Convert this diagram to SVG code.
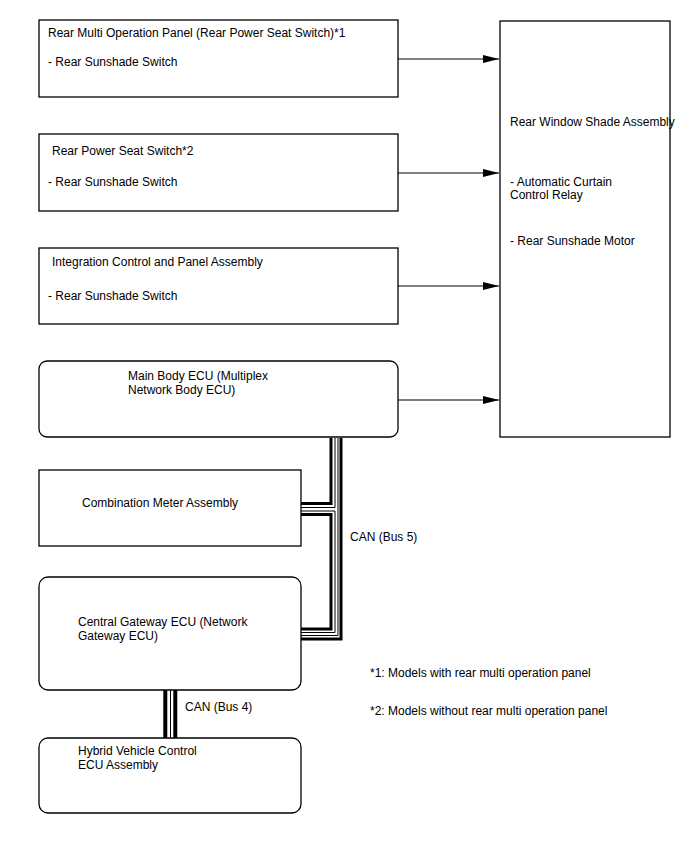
<svg xmlns="http://www.w3.org/2000/svg" width="688" height="852" viewBox="0 0 688 852">
<style>
  .box { fill: #ffffff; stroke: #000000; stroke-width: 1.3; }
  .t { font-family: "Liberation Sans", Arial, sans-serif; font-size: 12px; fill: #000000; }
  .arrow { stroke: #000000; stroke-width: 1.2; fill: none; marker-end: url(#ah); }
  .thick { stroke: #000000; stroke-width: 3; fill: none; }
  .thin { stroke: #000000; stroke-width: 1; fill: none; }
</style>
<defs>
  <marker id="ah" viewBox="0 0 16 8" refX="16" refY="4" markerWidth="16" markerHeight="8" markerUnits="userSpaceOnUse" orient="auto">
    <path d="M0,0 L16,4 L0,8 Z" fill="#000000"/>
  </marker>
</defs>
<rect width="688" height="852" fill="#ffffff"/>

<g id="rear-multi-operation-panel">
  <rect class="box" x="39" y="20" width="359" height="77"/>
  <text class="t" x="48" y="37">Rear Multi Operation Panel (Rear Power Seat Switch)*1</text>
  <text class="t" x="48" y="66">- Rear Sunshade Switch</text>
</g>
<g id="rear-power-seat-switch">
  <rect class="box" x="39" y="134" width="359" height="77"/>
  <text class="t" x="52" y="155">Rear Power Seat Switch*2</text>
  <text class="t" x="48" y="186">- Rear Sunshade Switch</text>
</g>
<g id="integration-control-panel">
  <rect class="box" x="39" y="248" width="359" height="76"/>
  <text class="t" x="52" y="266">Integration Control and Panel Assembly</text>
  <text class="t" x="48" y="300">- Rear Sunshade Switch</text>
</g>
<g id="main-body-ecu">
  <rect class="box" x="39" y="361" width="359" height="76" rx="8"/>
  <text class="t" x="128" y="380">Main Body ECU (Multiplex</text>
  <text class="t" x="128" y="394">Network Body ECU)</text>
</g>
<g id="rear-window-shade-assembly">
  <rect class="box" x="500" y="21" width="170" height="416"/>
  <text class="t" x="510" y="126">Rear Window Shade Assembly</text>
  <text class="t" x="510" y="186">- Automatic Curtain</text>
  <text class="t" x="510" y="199">Control Relay</text>
  <text class="t" x="510" y="245">- Rear Sunshade Motor</text>
</g>
<g id="combination-meter">
  <rect class="box" x="39" y="470" width="262" height="76"/>
  <text class="t" x="82" y="507">Combination Meter Assembly</text>
</g>
<g id="central-gateway-ecu">
  <rect class="box" x="39" y="577" width="262" height="113" rx="9"/>
  <text class="t" x="78" y="626">Central Gateway ECU (Network</text>
  <text class="t" x="78" y="640">Gateway ECU)</text>
</g>
<g id="hybrid-vehicle-control-ecu">
  <rect class="box" x="39" y="738" width="262" height="75" rx="9"/>
  <text class="t" x="78" y="755">Hybrid Vehicle Control</text>
  <text class="t" x="78" y="769">ECU Assembly</text>
</g>

<g id="connectors">
  <line class="arrow" x1="398" y1="59" x2="499" y2="59"/>
  <line class="arrow" x1="398" y1="173" x2="499" y2="173"/>
  <line class="arrow" x1="398" y1="286" x2="499" y2="286"/>
  <line class="arrow" x1="398" y1="400" x2="499" y2="400"/>

  <!-- CAN Bus 5: main body to combination meter -->
  <polyline class="thick" points="331,438 331,503.5 301,503.5"/>
  <polyline class="thin" points="335,438 335,507.5 301,507.5"/>
  <!-- combination meter to gateway -->
  <polyline class="thin" points="301,511 335,511 335,632.5 301,632.5"/>
  <polyline class="thick" points="301,514.5 331,514.5 331,629 301,629"/>
  <!-- main body to gateway -->
  <polyline class="thin" points="338,438 338,635.5 301,635.5"/>
  <polyline class="thick" points="341,438 341,639 301,639"/>

  <!-- CAN Bus 4: gateway to hybrid ECU -->
  <line x1="165.3" y1="690" x2="165.3" y2="738" stroke="#000" stroke-width="4"/>
  <line x1="170.5" y1="690" x2="170.5" y2="738" stroke="#000" stroke-width="1"/>
  <line x1="175.3" y1="690" x2="175.3" y2="738" stroke="#000" stroke-width="4"/>
</g>

<g id="labels">
  <text class="t" x="350" y="541">CAN (Bus 5)</text>
  <text class="t" x="185" y="711">CAN (Bus 4)</text>
  <text class="t" x="370" y="677">*1: Models with rear multi operation panel</text>
  <text class="t" x="370" y="715">*2: Models without rear multi operation panel</text>
</g>
</svg>
